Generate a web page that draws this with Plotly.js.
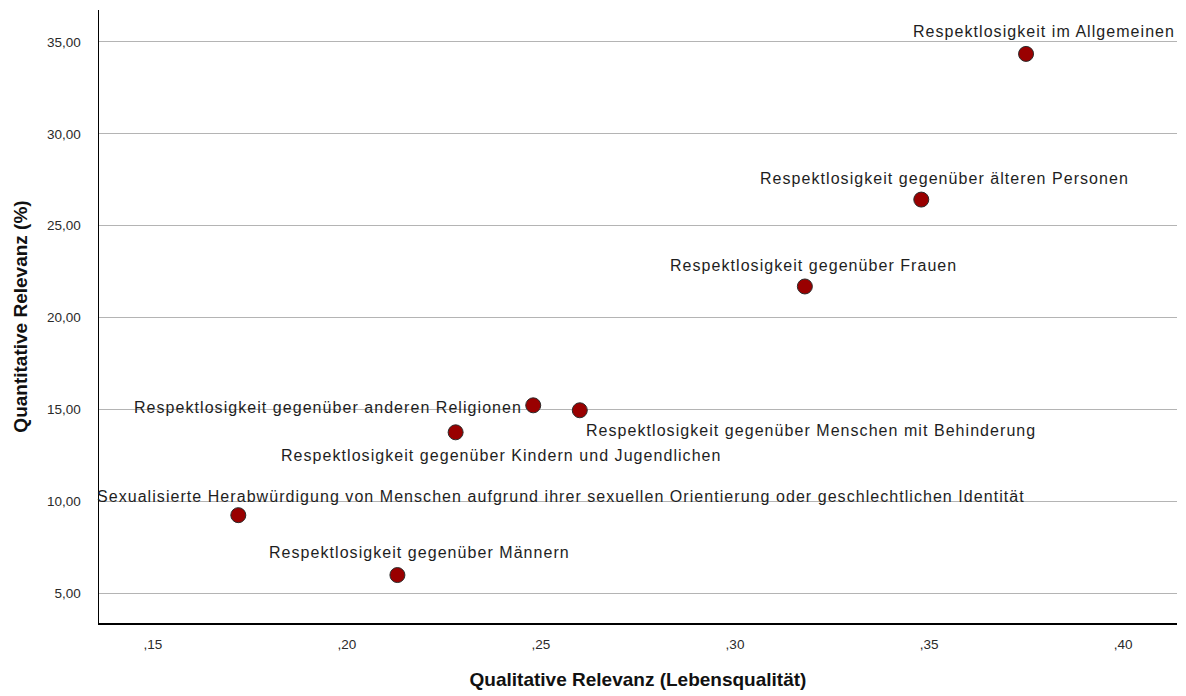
<!DOCTYPE html>
<html>
<head>
<meta charset="utf-8">
<script src="https://cdn.plot.ly/plotly-3.0.1.min.js"></script>
<style>
  html, body { margin: 0; padding: 0; background: #fff; }
  #chart { width: 1186px; height: 696px; }
  text.annotation-text { letter-spacing: 1.05px; }
</style>
</head>
<body>
<div id="chart"></div>
<script>
// ---- data ----
var categories = [
  "Respektlosigkeit im Allgemeinen",
  "Respektlosigkeit gegenüber älteren Personen",
  "Respektlosigkeit gegenüber Frauen",
  "Respektlosigkeit gegenüber anderen Religionen",
  "Respektlosigkeit gegenüber Menschen mit Behinderung",
  "Respektlosigkeit gegenüber Kindern und Jugendlichen",
  "Sexualisierte Herabwürdigung von Menschen aufgrund ihrer sexuellen Orientierung oder geschlechtlichen Identität",
  "Respektlosigkeit gegenüber Männern"
];
var qualitative = [0.375, 0.348, 0.318, 0.248, 0.260, 0.228, 0.172, 0.213];
var quantitative = [34.35, 26.42, 21.69, 15.22, 14.95, 13.75, 9.24, 5.98];

var xTickVals = [0.15, 0.20, 0.25, 0.30, 0.35, 0.40];
var xTickText = [",15", ",20", ",25", ",30", ",35", ",40"];
var yTickVals = [5, 10, 15, 20, 25, 30, 35];
var yTickText = ["5,00", "10,00", "15,00", "20,00", "25,00", "30,00", "35,00"];

// ---- label placement (pixels relative to point) ----
var labelAnchor = ["center", "center", "center", "right", "left", "center", "center", "center"];
var labelDx = [18, 23, 9, -9, 4, 46, 323, 22];
var labelDy = [22, 21, 21, -2, -20, -23, 19, 23];

var trace = {
  type: "scatter",
  mode: "markers",
  x: qualitative,
  y: quantitative,
  text: categories,
  hoverinfo: "text",
  marker: {
    size: 15,
    color: "#990000",
    line: { color: "#2b2b2b", width: 1 }
  },
  showlegend: false
};

var annotations = categories.map(function (c, i) {
  return {
    x: qualitative[i],
    y: quantitative[i],
    xref: "x",
    yref: "y",
    text: c,
    showarrow: false,
    xanchor: labelAnchor[i],
    yanchor: "middle",
    xshift: labelDx[i],
    yshift: labelDy[i],
    font: { family: "Liberation Sans, Arial, sans-serif", size: 16, color: "#1e1e1e" }
  };
});

var layout = {
  width: 1186,
  height: 696,
  margin: { l: 99, r: 9, t: 10, b: 73 },
  paper_bgcolor: "#ffffff",
  plot_bgcolor: "#ffffff",
  font: { family: "Liberation Sans, Arial, sans-serif", color: "#222" },
  xaxis: {
    range: [0.1361, 0.4139],
    tickvals: xTickVals,
    ticktext: xTickText,
    showgrid: false,
    zeroline: false,
    showline: true,
    linecolor: "#000",
    linewidth: 1.5,
    ticks: "outside",
    ticklen: 8,
    tickcolor: "rgba(0,0,0,0)",
    tickfont: { size: 13.5, color: "#2a2a2a" },
    title: {
      text: "Qualitative Relevanz (Lebensqualität)",
      font: { size: 19, color: "#111", weight: "bold" },
      standoff: 22
    }
  },
  yaxis: {
    range: [3.37, 36.74],
    tickvals: yTickVals,
    ticktext: yTickText,
    showgrid: true,
    gridcolor: "#b4b4b4",
    gridwidth: 1,
    zeroline: false,
    showline: true,
    linecolor: "#000",
    linewidth: 1.5,
    ticks: "outside",
    ticklen: 14,
    tickcolor: "rgba(0,0,0,0)",
    tickfont: { size: 13.5, color: "#2a2a2a" },
    title: {
      text: "Quantitative Relevanz (%)",
      font: { size: 19, color: "#111", weight: "bold" },
      standoff: 14
    }
  },
  annotations: annotations
};

Plotly.newPlot("chart", [trace], layout, { displayModeBar: false, staticPlot: true });
</script>
</body>
</html>
